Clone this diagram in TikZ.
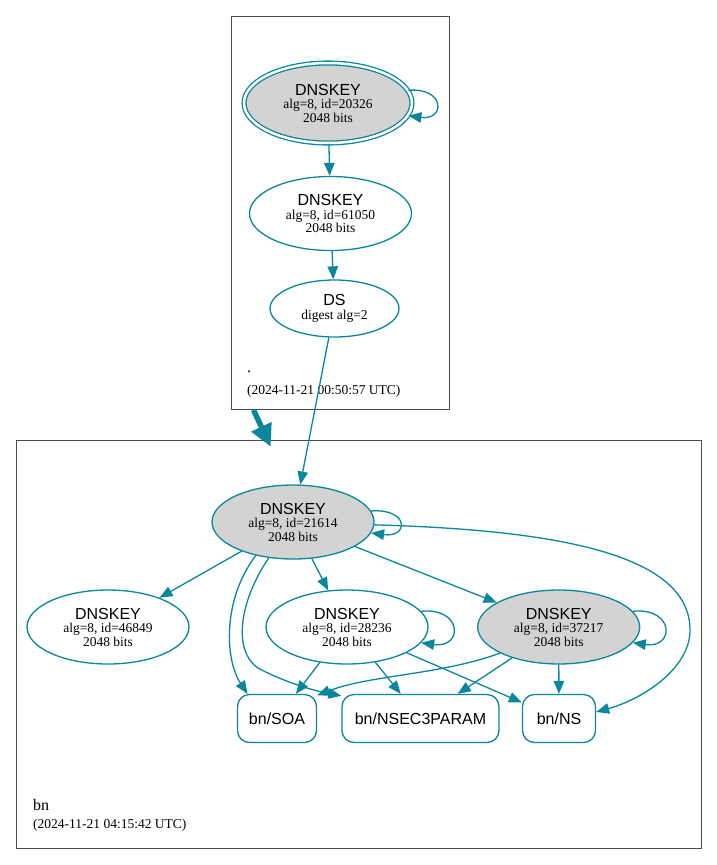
\documentclass[tikz,border=0pt]{standalone}
\usepackage{fontspec}
\setmainfont{Liberation Serif}
\setsansfont{Liberation Sans}
\usetikzlibrary{shapes.geometric,arrows.meta}
\definecolor{keyedge}{HTML}{0A879A}
\definecolor{keyfill}{HTML}{D3D3D3}
\newcommand{\keytitle}[1]{{\sffamily\fontsize{16}{16}\selectfont #1}}

\begin{document}
\begin{tikzpicture}[x=1pt,y=-1pt,
    keynode/.style={draw=keyedge,line width=1.3pt,ellipse,inner sep=0pt,align=center,
      minimum width=162pt,minimum height=74pt,font=\fontsize{13.5}{13.5}\selectfont},
    rrset/.style={draw=keyedge,line width=1.3pt,rounded corners=12pt,minimum height=48pt,
      inner sep=0pt,font=\sffamily\fontsize{16}{16}\selectfont},
    zone/.style={draw=black!70,line width=0.8pt},
    zonetext/.style={anchor=base west,inner sep=0pt,font=\fontsize{13.5}{13.5}\selectfont},
    dep/.style={keyedge,line width=1.3pt,-{Triangle[length=13pt,width=10.5pt]}}]
    \useasboundingbox (0,0) rectangle (717,865);

    \draw[zone] (231,16) rectangle (449,409);
    \draw[zone] (16,440) rectangle (701,848);

    \node[keynode,fill=keyfill,double=white,double distance=2.5pt,
      minimum width=168pt,minimum height=80pt] (k20326) at (328,103)
      {\keytitle{DNSKEY}\\alg=8, id=20326\\2048 bits};
    \node[keynode] (k61050) at (330.5,213.5)
      {\keytitle{DNSKEY}\\alg=8, id=61050\\2048 bits};
    \node[keynode,minimum width=129pt,minimum height=57pt] (ds) at (334.5,308.5)
      {\keytitle{DS}\\digest alg=2};

    \foreach \id/\x/\y/\f in
    {21614/293/522/keyfill,46849/108/627/white,28236/347/627/white,37217/558.7/627/keyfill}
    {\node[keynode,fill=\f] (k\id) at (\x,\y)
      {\keytitle{DNSKEY}\\alg=8, id=\id\\2048 bits};}

    \foreach \n/\x/\w/\t in
    {soa/277/79/SOA,nsec/420.5/157/NSEC3PARAM,ns/559/73/NS}
    {\node[rrset,minimum width=\w pt] (\n) at (\x,718.5) {bn/\t};}

    \node[zonetext,font=\fontsize{16}{16}\selectfont] (rootname) at (247,372) {.};
    \node[zonetext] (rootdate) at (247,394) {(2024-11-21 00:50:57 UTC)};
    \node[zonetext,font=\fontsize{16}{16}\selectfont] (bnname) at (33,810) {bn};
    \node[zonetext] (bndate) at (33,828) {(2024-11-21 04:15:42 UTC)};

    \coordinate (rootout) at (253.5,410);
    \coordinate (bnin) at (270.7,446.7);
    \draw[keyedge,line width=5.5pt,-{Triangle[length=22pt,width=21pt]}] (rootout) -- (bnin);

    \draw[dep] (k20326.9) .. controls +(37,-3) and +(37,5) .. (k20326.-9);
    \draw[dep] (k20326) -- (k61050);
    \draw[dep] (k61050) -- (ds);
    \draw[dep] (ds) -- (k21614);

    \draw[dep] (k21614.8) .. controls +(38,-3) and +(38,5) .. (k21614.-8);
    \draw[dep] (k21614) -- (k46849);
    \draw[dep] (k21614) -- (k28236);
    \draw[dep] (k21614) -- (k37217);
    \draw[dep] (k21614.-2) .. controls (560,530) and (690,555) .. (690,630)
      .. controls (690,670) and (640,700) .. (ns.10);
    \draw[dep] (k21614.222) .. controls (222,600) and (225,660) .. (soa.140);
    \draw[dep] (k21614.236) .. controls (240,600) and (232,650) .. (258,668)
      .. controls (280,680) and (310,690) .. (nsec.164);

    \draw[dep] (k28236.12) .. controls +(42,-4) and +(42,6) .. (k28236.-12);
    \draw[dep] (k28236) -- (soa);
    \draw[dep] (k28236) -- (nsec);
    \draw[dep] (k28236) -- (ns);

    \draw[dep] (k37217.12) .. controls +(42,-4) and +(42,6) .. (k37217.-12);
    \draw[dep] (k37217) -- (nsec);
    \draw[dep] (k37217) -- (ns);
    \draw[dep] (k37217.204) .. controls (440,675) and (370,675) .. (soa.30);
  \end{tikzpicture}
\end{document}
